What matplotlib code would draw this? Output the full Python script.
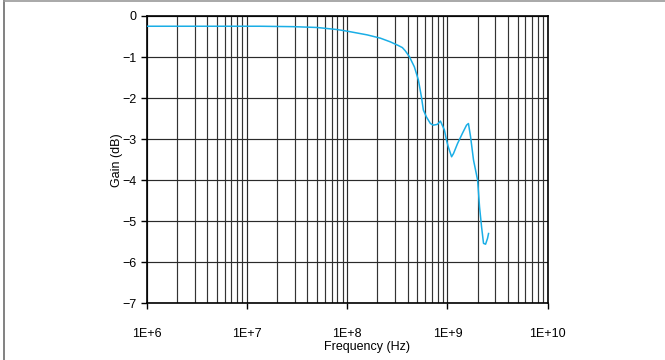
# !/usr/bin/env python

import numpy as np
from matplotlib import pyplot as plt
from matplotlib.lines import Line2D
from matplotlib.ticker import LogLocator, NullFormatter, FixedLocator

# ******************************************        Data        ****************************************** #
freq_hz = [1.0e6, 1.35e7, 2.88e7, 5.0e7, 7.9e7, 1.0e8, 1.58e8, 2.14e8, 2.69e8, 3.24e8,
           3.55e8, 3.8e8, 4.17e8, 4.68e8, 5.13e8, 5.5e8, 5.75e8, 6.17e8, 6.76e8, 7.24e8, 7.94e8,
           8.51e8, 9.33e8, 9.77e8, 1.02e9, 1.10e9, 1.15e9, 1.26e9, 1.41e9, 1.55e9, 1.62e9,
           1.70e9, 1.82e9, 2.0e9, 2.09e9, 2.19e9, 2.29e9, 2.40e9, 2.51e9, 2.57e9]
gain_db = [-0.25, -0.25, -0.26, -0.28, -0.33, -0.37, -0.46, -0.54, -0.63, -0.72,
           -0.77, -0.85, -0.99, -1.24, -1.56, -1.97, -2.29, -2.46, -2.62, -2.66, -2.64,
           -2.56, -2.78, -3.02, -3.19, -3.43, -3.35, -3.11, -2.86, -2.66, -2.62,
           -2.94, -3.51, -4.0, -4.65, -5.14, -5.54, -5.56, -5.42, -5.3]
x_ticks = [1e6, 1e7, 1e8, 1e9, 1e10]
x_labels = ['1E+6', '1E+7', '1E+8', '1E+9', '1E+10']
y_ticks = [0, -1, -2, -3, -4, -5, -6, -7]
y_labels = ['0', '\u22121', '\u22122', '\u22123', '\u22124', '\u22125', '\u22126', '\u22127']


def main():
    plt.rcParams['font.family'] = ['Liberation Sans', 'DejaVu Sans']
    fig = plt.figure(figsize=[6.65, 3.6], dpi=100)
    ax = fig.add_axes([0.2206, 0.1575, 0.6030, 0.7981])

    ax.plot(freq_hz, gain_db, color='#1aaee6', lw=1.1, zorder=3)

    ax.set_xscale('log')
    ax.set_xlim(1e6, 1e10)
    ax.set_ylim(-7, 0)

    ax.xaxis.set_major_locator(FixedLocator(x_ticks))
    ax.set_xticklabels(x_labels)
    ax.xaxis.set_minor_locator(LogLocator(base=10, subs=np.arange(2, 10), numticks=20))
    ax.xaxis.set_minor_formatter(NullFormatter())
    ax.set_yticks(y_ticks)
    ax.set_yticklabels(y_labels)

    ax.grid(which='major', color='#2a2a2a', lw=0.85)
    ax.grid(which='minor', axis='x', color='#333333', lw=0.85)
    ax.tick_params(axis='x', which='major', direction='out', length=4, width=1.0, pad=14, labelsize=9)
    ax.tick_params(axis='x', which='minor', length=0)
    ax.tick_params(axis='y', direction='out', length=4, width=1.0, pad=3, labelsize=9)
    for sp in ax.spines.values():
        sp.set_linewidth(1.2)
        sp.set_color('black')

    fig.text(117 / 665, 1 - 160 / 360, 'Gain (dB)', rotation=90, ha='center', va='center', fontsize=9)
    fig.text(367 / 665, 1 - 347 / 360, 'Frequency (Hz)', ha='center', va='center', fontsize=9)

    # thin frame on the left and top edge of the figure
    fig.add_artist(Line2D([4 / 665, 4 / 665], [0, 1], transform=fig.transFigure, color='#777777', lw=1.3))
    fig.add_artist(Line2D([4 / 665, 1], [1 - 0.8 / 360, 1 - 0.8 / 360], transform=fig.transFigure,
                          color='#999999', lw=1.2))

    fig.savefig('out.png', dpi=100)


if __name__ == '__main__':
    main()
